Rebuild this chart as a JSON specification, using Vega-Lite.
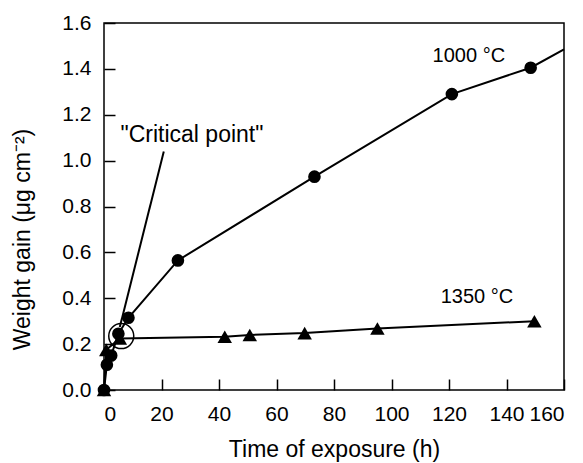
{
  "$schema": "https://vega.github.io/schema/vega-lite/v6.json",
  "width": 460,
  "height": 367,
  "autosize": "none",
  "padding": {"left": 104, "top": 23, "right": 19, "bottom": 73},
  "config": {
    "view": {"stroke": "black", "strokeWidth": 1.5},
    "font": "Liberation Sans",
    "axis": {"domain": false, "grid": false, "tickColor": "black", "tickWidth": 1.5, "labelColor": "black", "titleColor": "black", "labelFont": "Liberation Sans", "titleFont": "Liberation Sans", "titleFontWeight": "normal"}
  },
  "datasets": {
    "s1000": [
      {"t": 0, "w": 0, "m": true},
      {"t": 1, "w": 0.11, "m": true},
      {"t": 2.5, "w": 0.15, "m": true},
      {"t": 5, "w": 0.245, "m": true},
      {"t": 8.5, "w": 0.315, "m": true},
      {"t": 25.7, "w": 0.565, "m": true},
      {"t": 73.2, "w": 0.93, "m": true},
      {"t": 121, "w": 1.29, "m": true},
      {"t": 148.4, "w": 1.405, "m": true},
      {"t": 160, "w": 1.485, "m": false}
    ],
    "s1350": [
      {"t": 0, "w": 0},
      {"t": 0.8, "w": 0.175},
      {"t": 5.5, "w": 0.225},
      {"t": 42, "w": 0.232},
      {"t": 50.7, "w": 0.24},
      {"t": 69.8, "w": 0.248},
      {"t": 95.1, "w": 0.268},
      {"t": 149.7, "w": 0.3}
    ],
    "crit": [{"t": 6, "w": 0.235}],
    "leader": [{"t": 5.5, "w": 0.275, "t2": 20.8, "w2": 1.04}],
    "labels": [
      {"t": 126.9, "w": 1.457, "txt": "1000 °C"},
      {"t": 129.7, "w": 0.404, "txt": "1350 °C"}
    ],
    "crittext": [
      {"t": 30.6, "w": 1.11, "txt": "\"Critical point\""}
    ]
  },
  "layer": [
    {
      "data": {"name": "s1000"},
      "mark": {"type": "line", "color": "black", "strokeWidth": 2, "clip": false},
      "encoding": {
        "x": {"field": "t", "type": "quantitative", "scale": {"domain": [0, 160], "nice": false},
          "axis": {"values": [0, 20, 40, 60, 80, 100, 120, 140, 160], "tickSize": -11, "labelPadding": 24, "labelFontSize": 21, "title": "Time of exposure (h)", "titleFontSize": 23, "titlePadding": 14}},
        "y": {"field": "w", "type": "quantitative", "scale": {"domain": [0, 1.6], "nice": false},
          "axis": {"values": [0, 0.2, 0.4, 0.6, 0.8, 1.0, 1.2, 1.4, 1.6], "format": ".1f", "tickSize": -11, "labelPadding": 24, "labelFontSize": 21, "title": "Weight gain (μg cm⁻²)", "titleFontSize": 23, "titleBaseline": "middle", "titleX": -82, "titleY": 216}}
      }
    },
    {
      "data": {"name": "s1000"},
      "transform": [{"filter": "datum.m"}],
      "mark": {"type": "point", "shape": "circle", "filled": true, "color": "black", "opacity": 1, "size": 160, "clip": false},
      "encoding": {"x": {"field": "t", "type": "quantitative"}, "y": {"field": "w", "type": "quantitative"}}
    },
    {
      "data": {"name": "s1350"},
      "mark": {"type": "line", "color": "black", "strokeWidth": 2, "clip": false},
      "encoding": {"x": {"field": "t", "type": "quantitative"}, "y": {"field": "w", "type": "quantitative"}}
    },
    {
      "data": {"name": "s1350"},
      "mark": {"type": "point", "shape": "triangle-up", "filled": true, "color": "black", "opacity": 1, "size": 210, "clip": false},
      "encoding": {"x": {"field": "t", "type": "quantitative"}, "y": {"field": "w", "type": "quantitative"}}
    },
    {
      "data": {"name": "crit"},
      "mark": {"type": "point", "shape": "circle", "filled": false, "color": "black", "opacity": 1, "strokeWidth": 1.5, "size": 625},
      "encoding": {"x": {"field": "t", "type": "quantitative"}, "y": {"field": "w", "type": "quantitative"}}
    },
    {
      "data": {"name": "leader"},
      "mark": {"type": "rule", "color": "black", "strokeWidth": 2},
      "encoding": {"x": {"field": "t", "type": "quantitative"}, "y": {"field": "w", "type": "quantitative"}, "x2": {"field": "t2"}, "y2": {"field": "w2"}}
    },
    {
      "data": {"name": "labels"},
      "mark": {"type": "text", "fontSize": 20, "color": "black", "align": "center", "baseline": "middle"},
      "encoding": {"x": {"field": "t", "type": "quantitative"}, "y": {"field": "w", "type": "quantitative"}, "text": {"field": "txt"}}
    },
    {
      "data": {"name": "crittext"},
      "mark": {"type": "text", "fontSize": 23, "color": "black", "align": "center", "baseline": "middle"},
      "encoding": {"x": {"field": "t", "type": "quantitative"}, "y": {"field": "w", "type": "quantitative"}, "text": {"field": "txt"}}
    }
  ]
}
